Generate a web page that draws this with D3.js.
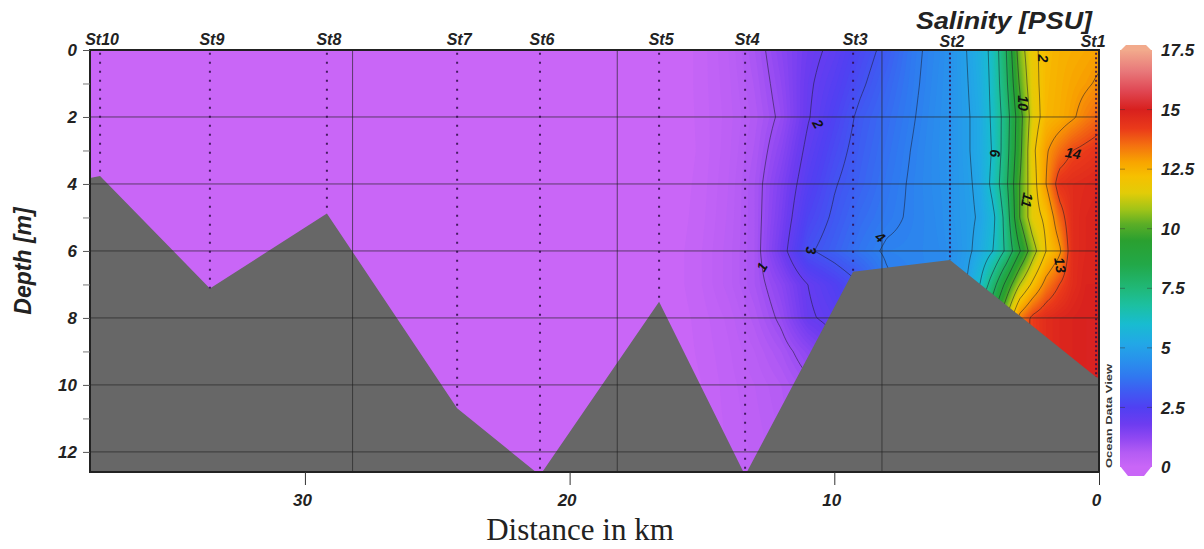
<!DOCTYPE html>
<html><head><meta charset="utf-8">
<script src="https://cdn.jsdelivr.net/npm/d3@7"></script>
<style>body{margin:0;background:#fff}svg{display:block}</style>
</head><body><svg id="c" width="1204" height="549"></svg>
<script>
// ---------------- DATA ----------------
const stationNames  = ["St10","St9","St8","St7","St6","St5","St4","St3","St2","St1"];
const stationDist   = [37.74, 33.59, 29.17, 24.25, 21.12, 16.62, 13.37, 9.29, 5.63, 0.11]; // km
const stationBottom = [3.76, 7.12, 4.88, 10.7, 12.7, 7.52, 12.7, 6.62, 6.27, 9.76];        // m
const bottomLeftEdge  = {dist: 38.12, depth: 3.82};
const bottomRightEdge = {dist: 0, depth: 9.8};

const xTicks = [30, 20, 10, 0];
const yTicks = [0, 2, 4, 6, 8, 10, 12];
const yMinorTicks = [1, 3, 5, 7, 9, 11];
const xGrid = [28.2, 18.2, 8.2];
const yGrid = [2, 4, 6, 8, 10, 12];
const cbTicks = [0, 2.5, 5, 7.5, 10, 12.5, 15, 17.5];

// salinity section: columns = distance (km), rows = depth (m)
const distCols  = [0, 0.5, 1, 1.5, 2, 2.5, 3, 3.5, 4, 4.5, 5, 5.5, 6, 7, 8, 9, 10, 11, 12, 13, 14, 15, 16, 38.2];
const depthRows = [0, 1, 2, 3, 4, 5, 6, 7, 8, 9, 10, 12.6];
const sal0m  = [12.8,12.7,12.6,12.5,12.3,11.8,10.5,8.0,6.3,5.5,5.0,4.6,4.3,3.85,3.2,2.7,2.15,1.8,1.3,0.8,0.4,0.15,0,0];
const sal1m  = [13.1,12.9,12.75,12.55,12.35,11.7,10.1,7.8,6.25,5.4,4.95,4.6,4.35,3.9,3.4,2.9,2.35,1.9,1.2,0.72,0.37,0.15,0,0];
const sal2m  = [13.6,13.3,12.9,12.6,12.4,11.5,9.6,7.5,6.2,5.3,4.9,4.6,4.4,3.97,3.55,3.15,2.55,1.95,1.1,0.65,0.35,0.14,0,0];
const sal3m  = [14.4,14.2,14.0,13.5,12.9,11.8,9.7,7.6,6.1,5.3,4.9,4.6,4.42,4.05,3.65,3.25,2.75,2.15,1.3,0.72,0.37,0.13,0,0];
const sal4m  = [14.8,14.7,14.6,14.4,13.0,11.6,10.0,7.8,6.3,5.2,4.85,4.6,4.4,4.1,3.75,3.35,2.95,2.35,1.5,0.8,0.4,0.15,0.02,0];
const sal5m  = [14.9,14.8,14.6,13.6,12.2,11.6,10.0,7.4,5.8,5.1,4.8,4.6,4.35,4.1,3.85,3.55,3.1,2.6,1.6,0.8,0.42,0.17,0.03,0];
const sal6m  = [14.9,14.8,14.6,12.8,12.0,10.6,8.9,7.2,6.0,5.3,4.8,4.5,4.3,4.15,4.1,3.75,3.3,2.9,1.75,0.8,0.45,0.2,0.05,0];
const sal7m  = [14.9,14.9,14.6,14.0,13.3,12.2,11.0,9.3,7.6,6.0,5.0,4.6,4.3,4.1,3.9,3.0,2.45,2.0,1.3,0.8,0.45,0.2,0.05,0];
const sal8m  = [15.0,15.0,14.9,14.8,14.6,14.2,13.3,11.0,9.0,7.5,6.0,5.0,4.5,4.1,3.9,2.8,2.2,1.9,1.1,0.65,0.33,0.15,0.03,0];
const sal9m  = [15.0,15.0,14.9,14.8,14.6,14.2,13.5,12.0,10.0,8.0,6.0,5.0,4.5,4.1,3.5,2.5,1.8,1.25,0.8,0.5,0.28,0.13,0.02,0];
const sal10m = [15.0,15.0,14.9,14.8,14.6,14.2,13.5,12.0,10.0,8.0,6.0,5.0,4.5,4.0,3.2,2.2,1.4,0.9,0.6,0.4,0.25,0.1,0,0];
const sal13m = [15.0,15.0,14.9,14.8,14.6,14.2,13.5,12.0,10.0,8.0,6.0,5.0,4.5,4.0,3.0,2.0,1.2,0.7,0.45,0.3,0.2,0.08,0,0];
const salRows = [sal0m,sal1m,sal2m,sal3m,sal4m,sal5m,sal6m,sal7m,sal8m,sal9m,sal10m,sal13m];

// contour labels (value, km, m, angle)
const labelText  = ["2","10","6","11","13","14","4","3","2","1"];
const labelDist  = [2.12, 2.87, 3.93, 2.72, 1.47, 0.98, 8.27, 10.88, 10.62, 12.73];
const labelDepth = [0.25, 1.58, 3.08, 4.48, 6.42, 3.08, 5.59, 5.98, 2.21, 6.48];
const labelAngle = [90, 90, 90, 100, 80, 10, 40, 90, 60, -60];

// colour palette (ODV-like)
const paletteValues = [0,0.6,1.2,1.8,2.5,3.2,3.8,4.5,5.2,6.0,6.8,7.5,8.5,9.5,10.2,10.8,11.5,12.2,12.8,13.5,14.2,15.0,15.8,16.6,17.5];
const paletteColors = ["#c966f7","#b45cf4","#9048f2","#6d3cf0","#5040f2","#3e5cf2","#3078f0","#2892ec","#22a8e6","#18bcd0","#1cc0a0","#20b878","#22a848","#2aa030","#5cae26","#a0c418","#e2cc08","#f6c000","#f8a400","#f47010","#ea3a1a","#d8201e","#e04854","#e8787a","#f2aa8c"];

// ---------------- CHART ----------------
const plot = {left: 90, top: 50, right: 1099, bottom: 472};
const FONT = "'Liberation Sans', Arial, sans-serif";
const svg = d3.select("#c");
const x = d3.scaleLinear().domain([38.12, 0]).range([plot.left, plot.right]);
const y = d3.scaleLinear().domain([0, 12.6]).range([plot.top, plot.bottom]);
const color = d3.scaleLinear().domain(paletteValues).range(paletteColors).clamp(true);

svg.append("defs").append("clipPath").attr("id","pc").append("rect")
  .attr("x",plot.left).attr("y",plot.top).attr("width",plot.right-plot.left).attr("height",plot.bottom-plot.top);

function field(d, z) {
  let i = d3.bisectRight(distCols, d) - 1; i = Math.max(0, Math.min(distCols.length-2, i));
  let j = d3.bisectRight(depthRows, z) - 1; j = Math.max(0, Math.min(depthRows.length-2, j));
  const tx = Math.max(0, Math.min(1, (d - distCols[i]) / (distCols[i+1]-distCols[i])));
  const ty = Math.max(0, Math.min(1, (z - depthRows[j]) / (depthRows[j+1]-depthRows[j])));
  const a = salRows[j][i], b = salRows[j][i+1], c = salRows[j+1][i], e = salRows[j+1][i+1];
  return (a*(1-tx)+b*tx)*(1-ty) + (c*(1-tx)+e*tx)*ty;
}

const nx = 505, ny = 211;
const cw = (plot.right-plot.left)/nx, ch = (plot.bottom-plot.top)/ny;
const vals = new Float64Array(nx*ny);
for (let j=0;j<ny;j++) for (let i=0;i<nx;i++) {
  vals[j*nx+i] = field(x.invert(plot.left+(i+0.5)*cw), y.invert(plot.top+(j+0.5)*ch));
}
const proj = d3.geoTransform({point(px,py){ this.stream.point(plot.left+px*cw, plot.top+py*ch); }});
const path = d3.geoPath(proj);

const g = svg.append("g").attr("clip-path","url(#pc)");
g.append("rect").attr("x",plot.left).attr("y",plot.top).attr("width",plot.right-plot.left)
  .attr("height",plot.bottom-plot.top).attr("fill",color(0));
const step = 0.1;
const bands = d3.contours().size([nx,ny]).thresholds(d3.range(step, 17.5, step))(vals);
g.append("g").selectAll("path").data(bands).join("path")
  .attr("d", path).attr("fill", dd => color(dd.value + step/2)).attr("stroke","none");

const lines = d3.contours().size([nx,ny]).thresholds(d3.range(1,15))(vals);
g.append("g").selectAll("path").data(lines).join("path")
  .attr("d", path).attr("fill","none").attr("stroke","#1a1a2a").attr("stroke-width",0.7).attr("stroke-opacity",0.75);

// contour labels
g.append("g").selectAll("text").data(labelText).join("text")
  .attr("transform",(t,i)=>`translate(${x(labelDist[i])},${y(labelDepth[i])}) rotate(${labelAngle[i]})`)
  .attr("text-anchor","middle").attr("dy","0.35em")
  .style("font", `italic bold 14px ${FONT}`).attr("fill","#111").text(t=>t);

// bottom topography
const bottomPts = [[bottomLeftEdge.dist,bottomLeftEdge.depth]]
  .concat(stationDist.map((d,i)=>[d,stationBottom[i]]))
  .concat([[bottomRightEdge.dist,bottomRightEdge.depth],[bottomRightEdge.dist,13],[bottomLeftEdge.dist,13]]);
g.append("path").attr("d", d3.line().x(p=>x(p[0])).y(p=>y(p[1]))(bottomPts)+"Z").attr("fill","#676767");

// grid
g.append("g").selectAll("line").data(yGrid).join("line")
  .attr("x1",plot.left).attr("x2",plot.right).attr("y1",d=>y(d)).attr("y2",d=>y(d))
  .attr("stroke","#222").attr("stroke-opacity",0.65).attr("stroke-width",1);
g.append("g").selectAll("line").data(xGrid).join("line")
  .attr("x1",d=>x(d)).attr("x2",d=>x(d)).attr("y1",plot.top).attr("y2",plot.bottom)
  .attr("stroke","#222").attr("stroke-opacity",0.65).attr("stroke-width",1);

// station sample profiles
g.append("g").selectAll("line").data(stationDist).join("line")
  .attr("x1",d=>x(d)).attr("x2",d=>x(d)).attr("y1",y(0.08)).attr("y2",(d,i)=>y(stationBottom[i]))
  .attr("stroke","#2e0c48").attr("stroke-width",2)
  .attr("stroke-dasharray",(d,i)=> (i>=8 ? "2,2.5" : "2,7")).attr("stroke-opacity",0.85);

// frame
svg.append("rect").attr("x",plot.left).attr("y",plot.top).attr("width",plot.right-plot.left)
  .attr("height",plot.bottom-plot.top).attr("fill","none").attr("stroke","#222").attr("stroke-width",2);

// title (drawn before station labels, as in the reference)
svg.append("text").attr("x",1004).attr("y",29).attr("text-anchor","middle")
  .attr("textLength",176).attr("lengthAdjust","spacingAndGlyphs")
  .style("font",`italic bold 23px ${FONT}`).attr("fill","#222").text("Salinity [PSU]");

// station labels
svg.append("g").selectAll("text").data(stationNames).join("text")
  .attr("x",(n,i)=>x(stationDist[i]) + (i===9 ? -3 : 2)).attr("y",(n,i)=> i>=8 ? 47 : 45)
  .attr("text-anchor","middle").style("font",`italic bold 16px ${FONT}`).attr("fill","#222").text(n=>n);

// axes
const yAxis = svg.append("g").attr("transform",`translate(${plot.left},0)`)
  .call(d3.axisLeft(y).tickValues(yTicks).tickSize(7).tickPadding(6).tickFormat(d3.format("d")));
yAxis.select(".domain").remove();
yAxis.selectAll("text").style("font",`italic bold 17px ${FONT}`).attr("fill","#222");
yAxis.selectAll("line").attr("stroke","#555");
const yMinor = svg.append("g").attr("transform",`translate(${plot.left},0)`)
  .call(d3.axisLeft(y).tickValues(yMinorTicks).tickSize(7).tickFormat(""));
yMinor.select(".domain").remove();
yMinor.selectAll("line").attr("stroke","#777");

const xAxis = svg.append("g").attr("transform",`translate(0,${plot.bottom})`)
  .call(d3.axisBottom(x).tickValues(xTicks).tickSize(13).tickPadding(9).tickFormat(d3.format("d")));
xAxis.select(".domain").remove();
xAxis.selectAll("text").attr("dx",-3).style("font",`italic bold 17px ${FONT}`).attr("fill","#222");
xAxis.selectAll("line").attr("stroke","#333");

svg.append("text").attr("x",580).attr("y",540).attr("text-anchor","middle")
  .style("font","31px 'Liberation Serif', 'Times New Roman', serif").attr("fill","#222").text("Distance in km");
svg.append("text").attr("transform","translate(31,261) rotate(-90)").attr("text-anchor","middle")
  .style("font",`italic bold 23px ${FONT}`).attr("fill","#222").text("Depth [m]");
svg.append("text").attr("transform","translate(1112,468) rotate(-90)")
  .attr("textLength",104).attr("lengthAdjust","spacingAndGlyphs")
  .style("font",`bold 9px ${FONT}`).attr("fill","#333").text("Ocean Data View");

// colour bar
const cb = d3.scaleLinear().domain([0,17.5]).range([467,50]);
const cbx0 = 1120, cbx1 = 1152;
const grad = svg.select("defs").append("linearGradient").attr("id","cbg")
  .attr("x1",0).attr("y1",1).attr("x2",0).attr("y2",0);
grad.selectAll("stop").data(paletteValues).join("stop")
  .attr("offset",v=>v/17.5).attr("stop-color",v=>color(v));
svg.append("rect").attr("x",cbx0).attr("y",cb(17.5)).attr("width",cbx1-cbx0).attr("height",cb(0)-cb(17.5)).attr("fill","url(#cbg)");
svg.append("path").attr("d",`M${cbx0},${cb(17.5)+1}L${cbx0+6},${cb(17.5)-5}L${cbx1-6},${cb(17.5)-5}L${cbx1},${cb(17.5)+1}Z`).attr("fill",color(17.5));
svg.append("path").attr("d",`M${cbx0},${cb(0)-1}L${cbx0+8},${cb(0)+9}L${cbx1-8},${cb(0)+9}L${cbx1},${cb(0)-1}Z`).attr("fill",color(0));
const cbt = svg.append("g");
cbt.selectAll("line.l").data(cbTicks.slice(1,-1)).join("line").attr("class","l")
  .attr("x1",cbx0).attr("x2",cbx0+5).attr("y1",v=>cb(v)).attr("y2",v=>cb(v)).attr("stroke","#333").attr("stroke-opacity",0.45);
cbt.selectAll("line.r").data(cbTicks.slice(1,-1)).join("line").attr("class","r")
  .attr("x1",cbx1-5).attr("x2",cbx1).attr("y1",v=>cb(v)).attr("y2",v=>cb(v)).attr("stroke","#333").attr("stroke-opacity",0.45);
cbt.selectAll("text").data(cbTicks).join("text")
  .attr("x",1161).attr("y",v=>cb(v)).attr("dy","0.36em")
  .style("font",`italic bold 17px ${FONT}`).attr("fill","#222").text(v=>String(v));
</script></body></html>
